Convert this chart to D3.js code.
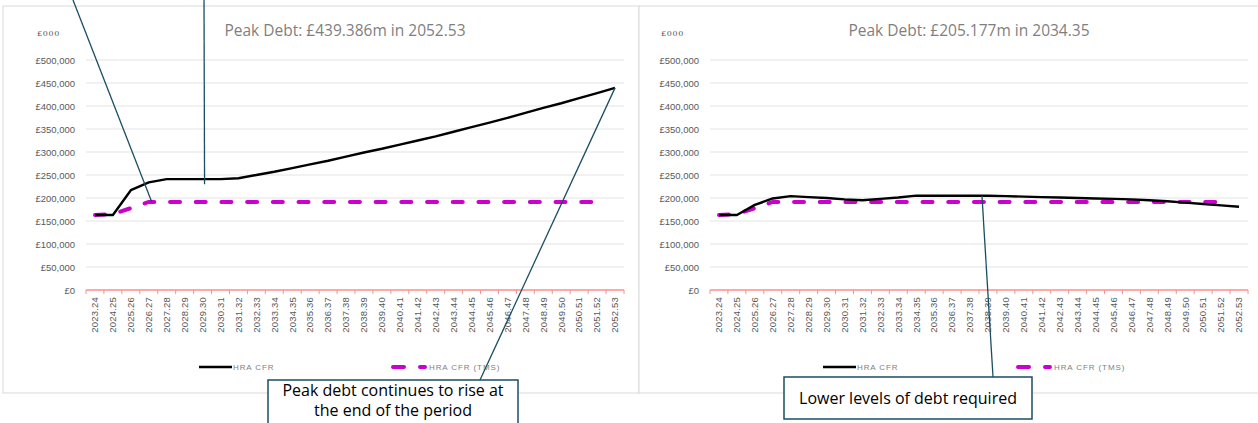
<!DOCTYPE html>
<html>
<head>
<meta charset="utf-8">
<script src="https://cdn.jsdelivr.net/npm/d3@7"></script>
<style>
  body { margin: 0; background: #fff; }
  svg { display: block; }
</style>
</head>
<body>
<div id="chart"></div>
<script>
const years = ["2023.24","2024.25","2025.26","2026.27","2027.28","2028.29","2029.30","2030.31","2031.32","2032.33",
  "2033.34","2034.35","2035.36","2036.37","2037.38","2038.39","2039.40","2040.41","2041.42","2042.43",
  "2043.44","2044.45","2045.46","2046.47","2047.48","2048.49","2049.50","2050.51","2051.52","2052.53"];

// £000
const leftCfr = [163000,163000,217000,234000,241000,241000,241000,241000,243000,250000,
  257000,265000,273000,281000,290000,299000,307000,316000,325000,334000,
  344000,354000,364000,374000,385000,396000,406000,417000,428000,439386];
const rightCfr = [163000,163000,185000,199000,204000,202000,200000,197000,195000,198000,
  201000,205177,205000,205000,205000,205000,204000,203000,202000,201000,
  200000,199000,198000,197000,195000,193000,190000,187000,184000,181000];
const tmsCfr = [163000,165000,178000,191500,191500,191500,191500,191500,191500,191500,
  191500,191500,191500,191500,191500,191500,191500,191500,191500,191500,
  191500,191500,191500,191500,191500,191500,191500,191500,191500,null];
const yTicks = [0,50000,100000,150000,200000,250000,300000,350000,400000,450000,500000];

const W = 1258, H = 423;
const svg = d3.select("#chart").append("svg").attr("width", W).attr("height", H);

const calloutColor = "#1b4e63";
const magenta = "#cc00cc";

function drawPanel(cfg) {
  const g = svg.append("g");
  g.append("rect")
    .attr("x", cfg.box[0]).attr("y", 6)
    .attr("width", cfg.box[1] - cfg.box[0]).attr("height", 387)
    .attr("fill", "#fff").attr("stroke", "#d9d9d9").attr("stroke-width", 1);

  const x = d3.scaleBand().domain(years).range([cfg.left, cfg.right]);
  const y = d3.scaleLinear().domain([0, 500000]).range([290, 60]);

  g.append("text")
    .attr("x", (cfg.left + cfg.right) / 2 - 10).attr("y", 36)
    .attr("text-anchor", "middle")
    .style("font-family", "'Open Sans', sans-serif")
    .style("font-size", "15.5px")
    .style("fill", "#7f7f7f")
    .text(cfg.title);

  g.append("text")
    .attr("x", cfg.left - 49).attr("y", 36)
    .style("font-family", "'DejaVu Serif', serif")
    .style("font-size", "8px")
    .style("letter-spacing", "0.7px")
    .style("fill", "#595959")
    .text("£000");

  // gridlines
  g.selectAll(".grid").data(yTicks.filter(d => d > 0)).join("line")
    .attr("x1", cfg.left).attr("x2", cfg.right)
    .attr("y1", d => y(d)).attr("y2", d => y(d))
    .attr("stroke", "#e3e3e3").attr("stroke-width", 1.2);

  const fmt = d3.format(",");
  g.selectAll(".ylab").data(yTicks).join("text")
    .attr("x", cfg.left - 11).attr("y", d => y(d) + 3.5)
    .attr("text-anchor", "end")
    .style("font-family", "'Liberation Sans', Arial, sans-serif")
    .style("font-size", "9.5px")
    .style("fill", "#595959")
    .text(d => "£" + fmt(d));

  // x axis
  const xAxis = g.append("g").attr("transform", "translate(0,290)")
    .call(d3.axisBottom(x).tickSize(0).tickPadding(0));
  xAxis.select(".domain").remove();
  xAxis.selectAll("text")
    .attr("transform", "rotate(-90)")
    .attr("x", -7).attr("y", 0).attr("dy", "0.35em")
    .attr("text-anchor", "end")
    .style("font-family", "'Liberation Sans', Arial, sans-serif")
    .style("font-size", "9.5px")
    .style("letter-spacing", "0.2px")
    .style("fill", "#595959");
  g.append("line")
    .attr("x1", cfg.left).attr("x2", cfg.right).attr("y1", 290).attr("y2", 290)
    .attr("stroke", "#ff8c8c").attr("stroke-width", 1.5);
  const edges = years.map(d => x(d)).concat([cfg.right]);
  g.selectAll(".tk").data(edges).join("line")
    .attr("x1", d => d).attr("x2", d => d).attr("y1", 290).attr("y2", 294)
    .attr("stroke", "#ff8c8c").attr("stroke-width", 1);

  const cx = d => x(d) + x.bandwidth() / 2;

  const lineGen = d3.line()
    .defined(d => d[1] != null)
    .x(d => cx(d[0])).y(d => y(d[1]));

  g.append("path")
    .datum(years.map((d, i) => [d, tmsCfr[i]]))
    .attr("d", lineGen)
    .attr("fill", "none").attr("stroke", magenta).attr("stroke-width", 4)
    .attr("stroke-dasharray", "10,15.7").attr("stroke-linecap", "round");

  g.append("path")
    .datum(years.map((d, i) => [d, cfg.cfr[i]]))
    .attr("d", lineGen)
    .attr("fill", "none").attr("stroke", "#000").attr("stroke-width", 2.4)
    .attr("stroke-linejoin", "round");

  // legend
  const ly = 367;
  const lf = "'Liberation Sans', Arial, sans-serif";
  g.append("line").attr("x1", cfg.leg1).attr("x2", cfg.leg1 + 33).attr("y1", ly).attr("y2", ly)
    .attr("stroke", "#000").attr("stroke-width", 2.4);
  g.append("text").attr("x", cfg.leg1 + 34).attr("y", ly + 3)
    .style("font-family", lf).style("font-size", "8px").style("letter-spacing", "0.9px")
    .style("fill", "#7f7f7f").text("HRA CFR");
  g.append("line").attr("x1", cfg.leg2 + 2).attr("x2", cfg.leg2 + 34).attr("y1", ly).attr("y2", ly)
    .attr("stroke", magenta).attr("stroke-width", 4).attr("stroke-linecap", "round")
    .attr("stroke-dasharray", "11,16");
  g.append("text").attr("x", cfg.leg2 + 38).attr("y", ly + 3)
    .style("font-family", lf).style("font-size", "8px").style("letter-spacing", "0.9px")
    .style("fill", "#7f7f7f").text("HRA CFR (TMS)");

  return { g, x, y, cx };
}

const L = drawPanel({ box: [3, 639], left: 86, right: 624, title: "Peak Debt: £439.386m in 2052.53",
  cfr: leftCfr, leg1: 199, leg2: 391 });
const R = drawPanel({ box: [639, 1262], left: 710, right: 1248, title: "Peak Debt: £205.177m in 2034.35",
  cfr: rightCfr, leg1: 823, leg2: 1016 });

// callouts
function connector(x1, y1, x2, y2) {
  svg.append("line").attr("x1", x1).attr("y1", y1).attr("x2", x2).attr("y2", y2)
    .attr("stroke", calloutColor).attr("stroke-width", 1.3);
}
function callout(x0, y0, w, h, lines, lineGap, firstY) {
  svg.append("rect").attr("x", x0).attr("y", y0).attr("width", w).attr("height", h)
    .attr("fill", "#fff").attr("stroke", calloutColor).attr("stroke-width", 1.5);
  lines.forEach((t, i) => {
    svg.append("text")
      .attr("x", x0 + w / 2).attr("y", firstY + i * lineGap)
      .attr("text-anchor", "middle")
      .style("font-family", "'Open Sans', sans-serif")
      .style("font-size", "16px")
      .style("fill", "#000")
      .text(t);
  });
}

connector(73, 0, L.cx("2026.27") + 3, L.y(191500));
connector(204, 0, L.cx("2029.30") + 2, L.y(241000) + 5);
connector(480, 380, L.cx("2052.53"), L.y(439386));
connector(993, 377, R.cx("2038.39") - 6, R.y(205000));

callout(268, 380, 250, 50, ["Peak debt continues to rise at", "the end of the period"], 20, 396);
callout(784, 377, 248, 42, ["Lower levels of debt required"], 0, 404);
</script>
</body>
</html>
